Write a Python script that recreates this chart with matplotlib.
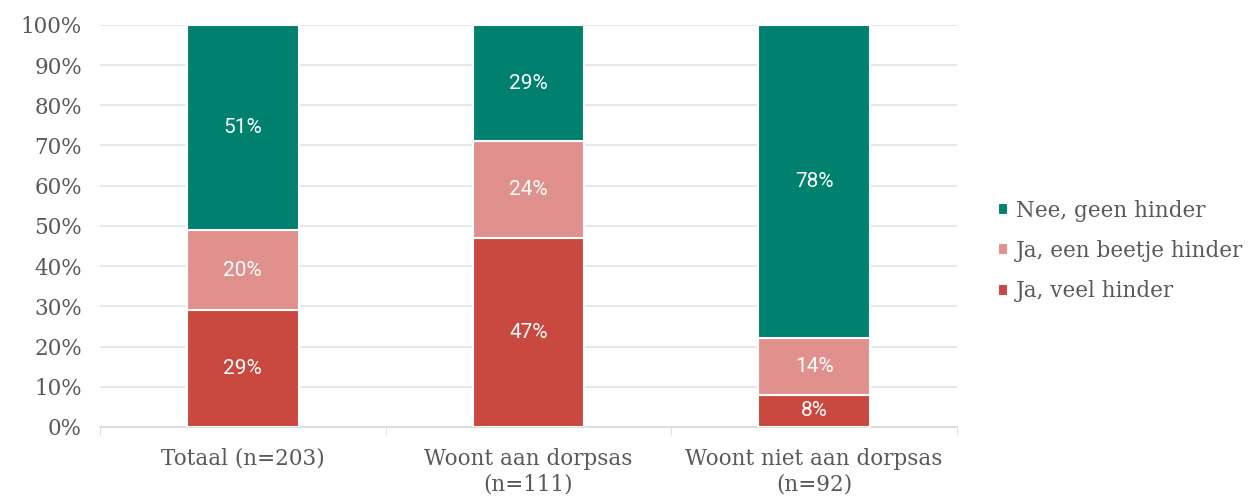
import numpy as np
import matplotlib.pyplot as plt

categories = ['Totaal (n=203)', 'Woont aan dorpsas\n(n=111)', 'Woont niet aan dorpsas\n(n=92)']
veel = [29, 47, 8]
beetje = [20, 24, 14]
geen = [51, 29, 78]

series = [('Ja, veel hinder', veel, '#C9483F'),
          ('Ja, een beetje hinder', beetje, '#E0908D'),
          ('Nee, geen hinder', geen, '#00806F')]

serif = ['DejaVu Serif']
txt_color = '#595959'

fig = plt.figure(figsize=(12.59, 4.97), dpi=100)
ax = fig.add_axes([0.0794, 0.141, 0.6807, 0.809])

x = np.arange(len(categories))
bottom = np.zeros(len(categories))
handles = []
for name, vals, col in series:
    vals = np.array(vals, dtype=float)
    b = ax.bar(x, vals, 0.39, bottom=bottom, color=col, edgecolor='white',
               linewidth=1.5, label=name, zorder=3)
    handles.append(b)
    for xi, v, b0 in zip(x, vals, bottom):
        ax.text(xi, b0 + v / 2, f'{v:.0f}%', ha='center', va='center',
                color='white', fontsize=15, family='Roboto', zorder=4)
    bottom += vals

ax.set_xlim(-0.5, 2.5)
ax.set_ylim(0, 100)
ax.set_yticks(np.arange(0, 101, 10))
ax.set_yticklabels([f'{v}%' for v in range(0, 101, 10)], family=serif,
                   fontsize=15.5, color=txt_color)
ax.set_xticks(x)
ax.set_xticklabels(categories, family=serif, fontsize=15.5, color=txt_color,
                   linespacing=1.2)
ax.tick_params(axis='x', which='major', length=0, pad=15)
ax.tick_params(axis='y', length=0, pad=13)
ax.set_xticks([-0.5, 0.5, 1.5, 2.5], minor=True)
ax.tick_params(axis='x', which='minor', length=6, color='#D9D9D9')
ax.grid(axis='y', color='#E3E3E3', linewidth=1.2, zorder=0)
for s in ['top', 'right', 'left']:
    ax.spines[s].set_visible(False)
ax.spines['bottom'].set_color('#D9D9D9')
ax.spines['bottom'].set_linewidth(1.2)

leg = fig.legend(handles[::-1], [s[0] for s in series][::-1],
                 loc='center left', bbox_to_anchor=(0.777, 0.495),
                 frameon=False, handlelength=0.5, handleheight=0.5,
                 handletextpad=0.35, labelspacing=0.85,
                 prop={'family': serif, 'size': 15.5})
for t in leg.get_texts():
    t.set_color(txt_color)

fig.savefig('out.png', dpi=100)
